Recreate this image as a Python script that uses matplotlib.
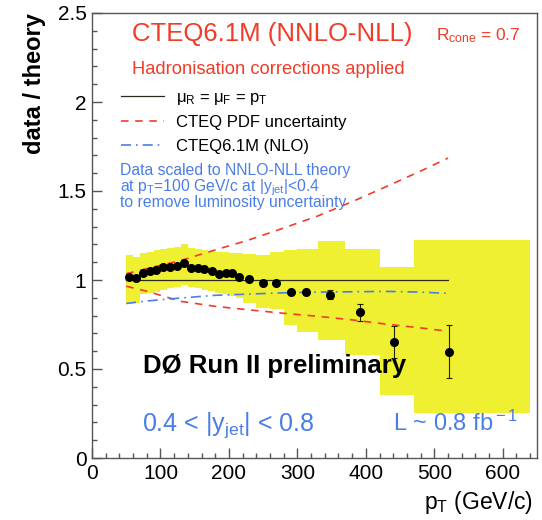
import matplotlib
matplotlib.use('Agg')
import matplotlib.pyplot as plt
from matplotlib.ticker import MultipleLocator, FormatStrFormatter

plt.rcParams['font.family'] = ['Liberation Sans', 'DejaVu Sans']
plt.rcParams['mathtext.fontset'] = 'custom'
plt.rcParams['mathtext.rm'] = 'Liberation Sans'
plt.rcParams['mathtext.it'] = 'Liberation Sans'
plt.rcParams['mathtext.bf'] = 'Liberation Sans:bold'

# measured data / theory, 0.4 < |y| < 0.8
pt = [54, 64.4, 74, 84, 94, 104, 114, 124, 134, 145, 155, 164, 175, 185, 195,
      204.5, 215, 229, 250, 269, 290, 313, 347, 392, 441, 521]
ratio = [1.019, 1.013, 1.041, 1.052, 1.056, 1.071, 1.075, 1.080, 1.094, 1.066,
         1.066, 1.062, 1.052, 1.034, 1.037, 1.041, 1.019, 1.006, 0.981, 0.981,
         0.934, 0.934, 0.918, 0.818, 0.653, 0.597]
stat_err = [0.005, 0.005, 0.005, 0.005, 0.005, 0.005, 0.005, 0.005, 0.006, 0.006,
            0.006, 0.006, 0.007, 0.007, 0.007, 0.008, 0.008, 0.008, 0.009, 0.010,
            0.012, 0.014, 0.027, 0.046, 0.090, 0.150]

# systematic uncertainty band per pT bin
bin_edges = [50, 60, 70, 80, 90, 100, 110, 120, 130, 140, 150, 160, 170, 180,
             190, 200, 210, 220, 240, 260, 280, 300, 330, 370, 420, 470, 640]
syst_up = [1.140, 1.131, 1.150, 1.159, 1.169, 1.172, 1.178, 1.187, 1.200, 1.178,
           1.172, 1.169, 1.163, 1.160, 1.156, 1.150, 1.150, 1.146, 1.140, 1.159,
           1.169, 1.175, 1.218, 1.175, 1.075, 1.222]
syst_down = [0.869, 0.869, 0.921, 0.929, 0.934, 0.944, 0.953, 0.963, 0.972, 0.963,
             0.953, 0.944, 0.940, 0.929, 0.921, 0.910, 0.897, 0.869, 0.845, 0.835,
             0.747, 0.710, 0.663, 0.580, 0.354, 0.251]

# theory curves
theory_pt = [50, 80, 130, 180, 230, 280, 330, 380, 430, 480, 520]
pdf_up = [1.035, 1.064, 1.110, 1.169, 1.226, 1.292, 1.360, 1.440, 1.525, 1.612, 1.685]
pdf_down = [0.965, 0.937, 0.880, 0.852, 0.832, 0.813, 0.796, 0.776, 0.752, 0.731, 0.712]
nlo = [0.868, 0.882, 0.899, 0.914, 0.921, 0.928, 0.932, 0.934, 0.936, 0.932, 0.925]
nominal_pt = [50, 520]
nominal = [1.0, 1.0]

red = '#f03c28'
blue = '#4a7de8'
yellow = '#f0f032'

fig = plt.figure(figsize=(5.42, 5.20), dpi=100)
ax = fig.add_axes([92/542, 62/520, 445/542, 445/520])

widths = [b - a for a, b in zip(bin_edges[:-1], bin_edges[1:])]
heights = [u - d for u, d in zip(syst_up, syst_down)]
ax.bar(bin_edges[:-1], heights, width=widths, bottom=syst_down, align='edge',
       color=yellow, linewidth=0, zorder=1)

l_nom, = ax.plot(nominal_pt, nominal, color='#2a2a1a', lw=0.9, zorder=3)
l_pdf, = ax.plot(theory_pt, pdf_up, color=red, lw=1.2, ls=(0, (4.5, 4)), zorder=3)
ax.plot(theory_pt, pdf_down, color=red, lw=1.2, ls=(0, (4.5, 4)), zorder=3)
l_nlo, = ax.plot(theory_pt, nlo, color=blue, lw=1.2, ls=(0, (6, 3, 1, 3)), zorder=3)

ax.errorbar(pt, ratio, yerr=stat_err, fmt='o', color='black', ms=5.5,
            ecolor='#222200', elinewidth=0.8, capsize=2.2, capthick=0.8, zorder=4)

ax.set_xlim(0, 650)
ax.set_ylim(0, 2.5)
ax.xaxis.set_major_locator(MultipleLocator(100))
ax.xaxis.set_minor_locator(MultipleLocator(20))
ax.yaxis.set_major_locator(MultipleLocator(0.5))
ax.yaxis.set_minor_locator(MultipleLocator(0.1))
ax.yaxis.set_major_formatter(FormatStrFormatter('%g'))
ax.tick_params(which='both', direction='in', top=False, right=False,
               color='#555555', width=1, labelsize=15, pad=4)
ax.tick_params(which='major', length=7)
ax.tick_params(which='minor', length=3.5)
for s in ax.spines.values():
    s.set_color('#555555')
    s.set_linewidth(1)

ax.text(58, 2.344, 'CTEQ6.1M (NNLO-NLL)', color=red, fontsize=18.5, va='baseline')
ax.text(503, 2.344, r'R$_{\rm cone}$ = 0.7', color=red, fontsize=12.5, va='baseline')
ax.text(58, 2.157, 'Hadronisation corrections applied', color=red, fontsize=13.2,
        va='baseline')

ax.legend([l_nom, l_pdf, l_nlo],
          [r'$\mu_{\rm R}$ = $\mu_{\rm F}$ = p$_{\rm T}$', 'CTEQ PDF uncertainty',
           'CTEQ6.1M (NLO)'],
          loc='upper left', bbox_to_anchor=(0.065, 0.828), frameon=False,
          fontsize=12, handlelength=2.6, handletextpad=0.7, labelspacing=0.52,
          borderpad=0, borderaxespad=0)

ax.text(41, 1.590, 'Data scaled to NNLO-NLL theory', color=blue, fontsize=11.3,
        va='baseline')
ax.text(41, 1.496, r'at p$_{\rm T}$=100 GeV/c at |y$_{\rm jet}$|<0.4', color=blue,
        fontsize=11.3, va='baseline')
ax.text(41, 1.412, 'to remove luminosity uncertainty', color=blue, fontsize=11.3,
        va='baseline')

ax.text(75, 0.476, 'DØ Run II preliminary', color='black', fontsize=18.5,
        fontweight='bold', va='baseline', zorder=5)
ax.text(73, 0.15, r'0.4 < |y$_{\rm jet}$| < 0.8', color=blue, fontsize=18,
        va='baseline')
ax.text(440, 0.15, r'L ~ 0.8 fb$^{\rm -1}$', color=blue, fontsize=17,
        va='baseline')

fig.text(35/542, 1 - 13/520, 'data / theory', rotation=90, fontsize=17,
         fontweight='bold', ha='center', va='top')
fig.text(533/542, 1 - 502/520, r'p$_{\rm T}$ (GeV/c)', fontsize=16.5,
         ha='right', va='center')

fig.savefig('out.png', dpi=100)
